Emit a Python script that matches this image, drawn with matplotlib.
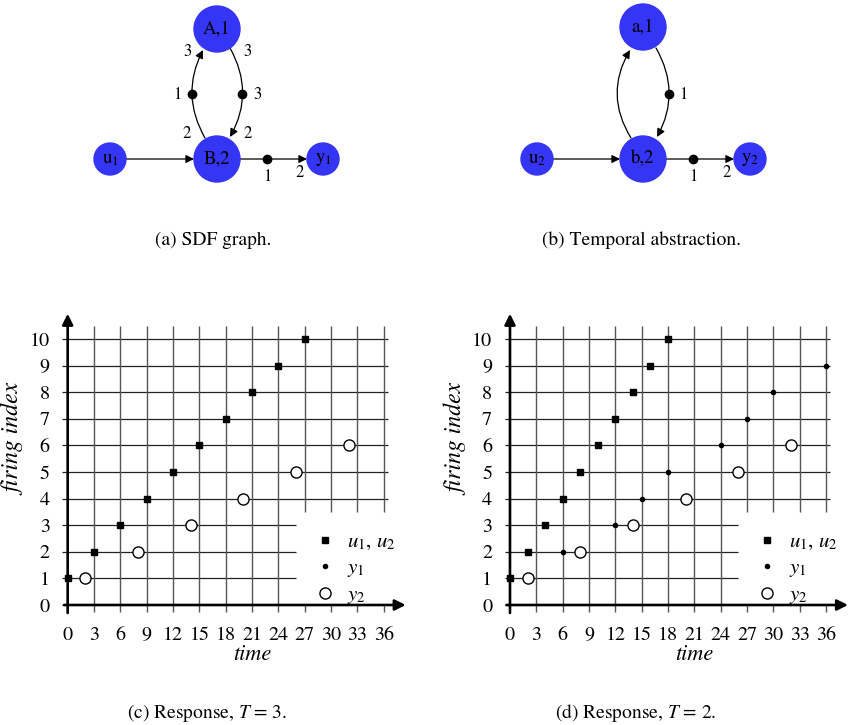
import matplotlib
matplotlib.use("Agg")
import matplotlib.pyplot as plt
from matplotlib.patches import Circle, FancyArrowPatch

plt.rcParams.update({
    'font.family': ['STIXGeneral', 'DejaVu Serif'],
    'mathtext.fontset': 'stix',
})

# ---- data: firing times (time, firing index) ----
x_ticks = [0, 3, 6, 9, 12, 15, 18, 21, 24, 27, 30, 33, 36]
y_ticks = [0, 1, 2, 3, 4, 5, 6, 7, 8, 9, 10]

# (c) T = 3
u_c_time = [0, 3, 6, 9, 12, 15, 18, 21, 24, 27]
u_c_idx = [1, 2, 3, 4, 5, 6, 7, 8, 9, 10]
y1_c_time = []
y1_c_idx = []
y2_c_time = [2, 8, 14, 20, 26, 32]
y2_c_idx = [1, 2, 3, 4, 5, 6]

# (d) T = 2
u_d_time = [0, 2, 4, 6, 8, 10, 12, 14, 16, 18]
u_d_idx = [1, 2, 3, 4, 5, 6, 7, 8, 9, 10]
y1_d_time = [6, 12, 15, 18, 24, 27, 30, 36]
y1_d_idx = [2, 3, 4, 5, 6, 7, 8, 9]
y2_d_time = [2, 8, 14, 20, 26, 32]
y2_d_idx = [1, 2, 3, 4, 5, 6]

BLUE = '#3535f5'

fig = plt.figure(figsize=(8.48, 7.25), dpi=100)

# ---- top diagrams, drawn in pixel coordinates ----
g = fig.add_axes([0, 0, 1, 1])
g.set_xlim(0, 848)
g.set_ylim(725, 0)
g.axis('off')


def node(x, y, r, label):
    g.add_patch(Circle((x, y), r, color=BLUE, zorder=3))
    g.text(x, y, label, ha='center', va='center', fontsize=13.5, zorder=4)


def edge(p0, p1, rad=0.0):
    g.add_patch(FancyArrowPatch(p0, p1, arrowstyle='-|>', mutation_scale=12,
                                lw=0.9, color='k', shrinkA=0, shrinkB=0,
                                connectionstyle=f'arc3,rad={rad}', zorder=2))


def token(x, y):
    g.plot([x], [y], 'o', color='k', ms=6, zorder=4)


def lbl(x, y, s):
    g.text(x, y, s, ha='center', va='center', fontsize=12)


# (a) SDF graph
node(217, 29, 23, 'A,1')
node(217, 159, 23, 'B,2')
node(110, 159, 16, r'u$_\mathregular{1}$')
node(323, 159, 16, r'y$_\mathregular{1}$')
edge((126, 159), (194, 159))
edge((240, 159), (307, 159))
edge((205, 138), (203, 50), rad=-0.27)
edge((230, 48), (230, 137), rad=-0.28)
token(192, 94)
token(242, 94)
token(267, 159)
lbl(187, 52, '3'); lbl(177, 95, '1'); lbl(187, 134, '2')
lbl(248, 52, '3'); lbl(258, 95, '3'); lbl(248, 134, '2')
lbl(267, 177, '1'); lbl(300, 173, '2')

# (b) temporal abstraction
node(643, 27, 23, 'a,1')
node(643, 159, 23, 'b,2')
node(537, 159, 16, r'u$_\mathregular{2}$')
node(750, 159, 16, r'y$_\mathregular{2}$')
edge((553, 159), (620, 159))
edge((666, 159), (734, 159))
edge((631, 138), (630, 50), rad=-0.3)
edge((656, 48), (657, 137), rad=-0.28)
token(669, 94)
token(693, 159)
lbl(683, 95, '1')
lbl(693, 177, '1'); lbl(727, 173, '2')

g.text(213, 240, '(a) SDF graph.', ha='center', va='center', fontsize=14)
g.text(642, 240, '(b) Temporal abstraction.', ha='center', va='center', fontsize=14)
g.text(207, 713, r'(c) Response, $T$ = 3.', ha='center', va='center', fontsize=14)
g.text(636, 713, r'(d) Response, $T$ = 2.', ha='center', va='center', fontsize=14)


# ---- response plots ----
def response(rect, xmax, u_t, u_i, y1_t, y1_i, y2_t, y2_i):
    ax = fig.add_axes(rect)
    ax.set_xlim(-1, xmax)
    ax.set_ylim(-0.5, 11.2)
    ax.patch.set_alpha(0)
    for s in ax.spines.values():
        s.set_visible(False)

    # grid, with a hole for the legend in the lower right
    for yv in y_ticks[1:]:
        ax.hlines(yv, -0.6, 26 if yv <= 3 else 36.5, color='#222222', lw=0.9, zorder=1)
    ax.hlines(0, -0.6, 0, color='#222222', lw=0.9, zorder=1)
    for xv in x_ticks[1:]:
        if xv >= 27:
            ax.vlines(xv, -0.25, 0, color='#555555', lw=1.0, zorder=1)
            ax.vlines(xv, 3.5, 10.5, color='#555555', lw=1.0, zorder=1)
        else:
            ax.vlines(xv, -0.25, 10.5, color='#555555', lw=1.0, zorder=1)

    # arrowed axes
    ax.annotate('', xy=(38.5, 0), xytext=(-0.4, 0),
                arrowprops=dict(arrowstyle='-|>', lw=1.9, color='k',
                                mutation_scale=16, shrinkA=0, shrinkB=0), zorder=3)
    ax.annotate('', xy=(0, 10.95), xytext=(0, -0.3),
                arrowprops=dict(arrowstyle='-|>', lw=1.9, color='k',
                                mutation_scale=16, shrinkA=0, shrinkB=0), zorder=3)

    ax.plot(u_t, u_i, 's', color='k', ms=5, ls='none', zorder=4, label=r'$u_1,\, u_2$')
    ax.plot(y1_t, y1_i, 'o', color='k', ms=3, ls='none', zorder=4, label=r'$y_1$')
    ax.plot(y2_t, y2_i, 'o', mfc='white', mec='k', mew=1.0, ms=8, ls='none',
            zorder=4, label=r'$y_2$')

    ax.set_xticks(x_ticks)
    ax.set_yticks(y_ticks)
    ax.tick_params(length=0, labelsize=14.5)
    ax.tick_params(axis='x', pad=6.5)
    ax.tick_params(axis='y', pad=6.5)
    ax.set_xlabel('time', style='italic', fontsize=16)
    ax.xaxis.set_label_coords((21 + 1) / (xmax + 1), -0.083)
    ax.set_ylabel('firing index', style='italic', fontsize=17)
    ax.yaxis.set_label_coords(-32 / (rect[2] * 848), (6.2 + 0.5) / 11.7)

    ax.legend(loc='lower left', bbox_to_anchor=(28.2, -0.05),
              bbox_transform=ax.transData, frameon=False, fontsize=15,
              handlelength=0.9, handletextpad=0.6, labelspacing=0.3,
              borderpad=0, borderaxespad=0)
    return ax


response([58.9 / 848, (725 - 618.3) / 725, 360 / 848, 311.2 / 725], 40,
         u_c_time, u_c_idx, y1_c_time, y1_c_idx, y2_c_time, y2_c_idx)
response([501.2 / 848, (725 - 618.3) / 725, 347.7 / 848, 311.2 / 725], 38.6,
         u_d_time, u_d_idx, y1_d_time, y1_d_idx, y2_d_time, y2_d_idx)

fig.savefig('out.png', dpi=100)
